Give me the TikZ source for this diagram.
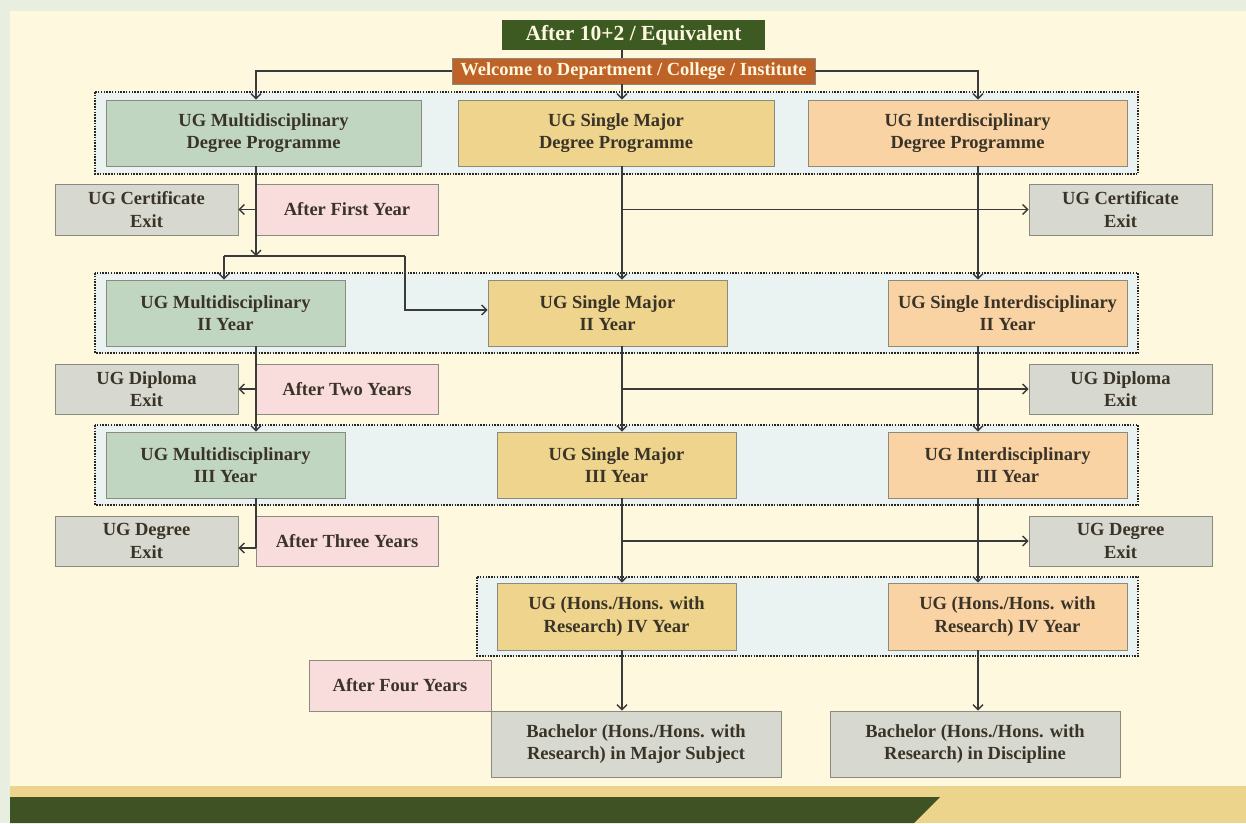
\documentclass[tikz,border=0pt]{standalone}
\usepackage{fontspec}
\setmainfont{Liberation Serif}
\usetikzlibrary{arrows.meta,calc}
\definecolor{bgout}{HTML}{E8EFE0}
\definecolor{cream}{HTML}{FEF8DE}
\definecolor{tanband}{HTML}{EDD48C}
\definecolor{dkgreen}{HTML}{3F5224}
\definecolor{titlegreen}{HTML}{3D5A23}
\definecolor{welcomeor}{HTML}{BF6227}
\definecolor{contfill}{HTML}{EAF2F2}
\definecolor{mdfill}{HTML}{C1D6C1}
\definecolor{smfill}{HTML}{EED48C}
\definecolor{idfill}{HTML}{F9D3A4}
\definecolor{exitfill}{HTML}{D7D8CF}
\definecolor{pinkfill}{HTML}{F9DCDC}
\definecolor{boxline}{HTML}{8A8A7E}
\definecolor{txt}{HTML}{3A3328}
\definecolor{conn}{HTML}{3A3A3A}
\begin{document}
\begin{tikzpicture}[x=1pt,y=-1pt,
  box/.style={draw=boxline, line width=0.9pt, align=center, text=txt, inner sep=2pt,
    font=\fontsize{18.5}{22.5}\selectfont\bfseries},
  mdbox/.style={box, fill=mdfill},
  smbox/.style={box, fill=smfill},
  idbox/.style={box, fill=idfill},
  exitbox/.style={box, fill=exitfill},
  pinkbox/.style={box, fill=pinkfill},
  contbox/.style={fill=contfill, draw=black!85, line width=1.7pt, dash pattern=on 1.5pt off 1.3pt},
  conline/.style={draw=conn, line width=1.3pt},
  arr/.style={conline, -{Straight Barb[length=5pt,width=10pt,line width=1.3pt]}}
]
\useasboundingbox (0,0) rectangle (1246,823);
% background
\fill[bgout] (0,0) rectangle (1246,823);
\fill[cream] (10,11) rectangle (1246,786);
\fill[tanband] (10,786) rectangle (1246,823);
\fill[dkgreen] (10,797) -- (940,797) -- (914,823) -- (10,823) -- cycle;

% containers
\path[contbox] (95,92) rectangle (1138,174);
\path[contbox] (95,273) rectangle (1138,353);
\path[contbox] (95,425) rectangle (1138,505);
\path[contbox] (477,577) rectangle (1138,656);

% spine coordinates
\coordinate (mx) at (256,0);
\coordinate (sx) at (622,0);
\coordinate (ix) at (978,0);

% top
\node[fill=titlegreen, text=cream, minimum width=263pt, minimum height=30pt, inner sep=0pt,
  font=\fontsize{21.5}{24}\selectfont\bfseries] (title) at (633.5,35) {After 10+2 / Equivalent};
\node[fill=welcomeor, draw=boxline, line width=0.8pt, text=cream, minimum width=363pt, minimum height=26pt, inner sep=0pt,
  font=\fontsize{18.5}{20}\selectfont\bfseries] (welcome) at (633.5,71) {Welcome to Department / College / Institute};

% row 1
\node[mdbox, minimum width=315pt, minimum height=66pt] (md1) at (263.5,133) {UG Multidisciplinary\\Degree Programme};
\node[smbox, minimum width=316pt, minimum height=66pt] (sm1) at (616,133) {UG Single Major\\Degree Programme};
\node[idbox, minimum width=319pt, minimum height=66pt] (id1) at (967.5,133) {UG Interdisciplinary\\Degree Programme};

\node[exitbox, minimum width=183pt, minimum height=51pt] (certL) at (146.5,209.5) {UG Certificate\\Exit};
\node[pinkbox, minimum width=182pt, minimum height=51pt] (afy) at (347,209.5) {After First Year};
\node[exitbox, minimum width=183pt, minimum height=51pt] (certR) at (1120.5,209.5) {UG Certificate\\Exit};

% row 2
\node[mdbox, minimum width=239pt, minimum height=66pt] (md2) at (225.5,313) {UG Multidisciplinary\\II Year};
\node[smbox, minimum width=239pt, minimum height=66pt] (sm2) at (607.5,313) {UG Single Major\\II Year};
\node[idbox, minimum width=239pt, minimum height=66pt] (id2) at (1007.5,313) {UG Single Interdisciplinary\\II Year};

\node[exitbox, minimum width=183pt, minimum height=50pt] (dipL) at (146.5,389) {UG Diploma\\Exit};
\node[pinkbox, minimum width=182pt, minimum height=50pt] (a2y) at (347,389) {After Two Years};
\node[exitbox, minimum width=183pt, minimum height=50pt] (dipR) at (1120.5,389) {UG Diploma\\Exit};

% row 3
\node[mdbox, minimum width=239pt, minimum height=66pt] (md3) at (225.5,465) {UG Multidisciplinary\\III Year};
\node[smbox, minimum width=239pt, minimum height=66pt] (sm3) at (616.5,465) {UG Single Major\\III Year};
\node[idbox, minimum width=239pt, minimum height=66pt] (id3) at (1007.5,465) {UG Interdisciplinary\\III Year};

\node[exitbox, minimum width=183pt, minimum height=50pt] (degL) at (146.5,541) {UG Degree\\Exit};
\node[pinkbox, minimum width=182pt, minimum height=50pt] (a3y) at (347,541) {After Three Years};
\node[exitbox, minimum width=183pt, minimum height=50pt] (degR) at (1120.5,541) {UG Degree\\Exit};

% row 4
\node[smbox, minimum width=239pt, minimum height=67pt] (sm4) at (616.5,616.5) {UG (Hons./Hons. with\\Research) IV Year};
\node[idbox, minimum width=239pt, minimum height=67pt] (id4) at (1007.5,616.5) {UG (Hons./Hons. with\\Research) IV Year};

\node[pinkbox, minimum width=182pt, minimum height=51pt] (a4y) at (400,685.5) {After Four Years};
\node[exitbox, minimum width=290pt, minimum height=66pt] (bachM) at (636,744) {Bachelor (Hons./Hons. with\\Research) in Major Subject};
\node[exitbox, minimum width=290pt, minimum height=66pt] (bachD) at (975,744) {Bachelor (Hons./Hons. with\\Research) in Discipline};

% connectors
\draw[conline] (title.south -| sx) -- (welcome.north -| sx);
\draw[arr] (welcome.south -| sx) -- (sm1.north -| sx);
\draw[arr] (welcome.west) -| (md1.north -| mx);
\draw[arr] (welcome.east) -| (id1.north -| ix);

% multidisciplinary column
\coordinate (j1) at (256,256);
\draw[arr] (md1.south -| mx) -- (j1);
\draw[arr] (certL.east -| mx) -- (certL.east);
\coordinate (jl) at (224,256);
\coordinate (jr) at (405,256);
\draw[conline] (jl) -- (jr);
\draw[arr] (jl) -- (md2.north -| jl);
\draw[arr] (jr) |- ($(sm2.west)+(0,-3)$);

\draw[arr] (md2.south -| mx) -- (md3.north -| mx);
\draw[arr] (dipL.east -| mx) -- (dipL.east);
\coordinate (md3end) at (256,548);
\draw[conline] (md3.south -| mx) -- (md3end);
\draw[arr] (md3end) -- (md3end -| degL.east);

% single major column
\draw[arr] (sm1.south -| sx) -- (sm2.north -| sx);
\draw[arr] (certR.west -| sx) -- (certR.west);
\draw[arr] (sm2.south -| sx) -- (sm3.north -| sx);
\draw[arr] (dipR.west -| sx) -- (dipR.west);
\draw[arr] (sm3.south -| sx) -- (sm4.north -| sx);
\draw[arr] (degR.west -| sx) -- (degR.west);
\draw[arr] (sm4.south -| sx) -- (bachM.north -| sx);

% interdisciplinary column
\draw[arr] (id1.south -| ix) -- (id2.north -| ix);
\draw[arr] (id2.south -| ix) -- (id3.north -| ix);
\draw[arr] (id3.south -| ix) -- (id4.north -| ix);
\draw[arr] (id4.south -| ix) -- (bachD.north -| ix);
\end{tikzpicture}
\end{document}
